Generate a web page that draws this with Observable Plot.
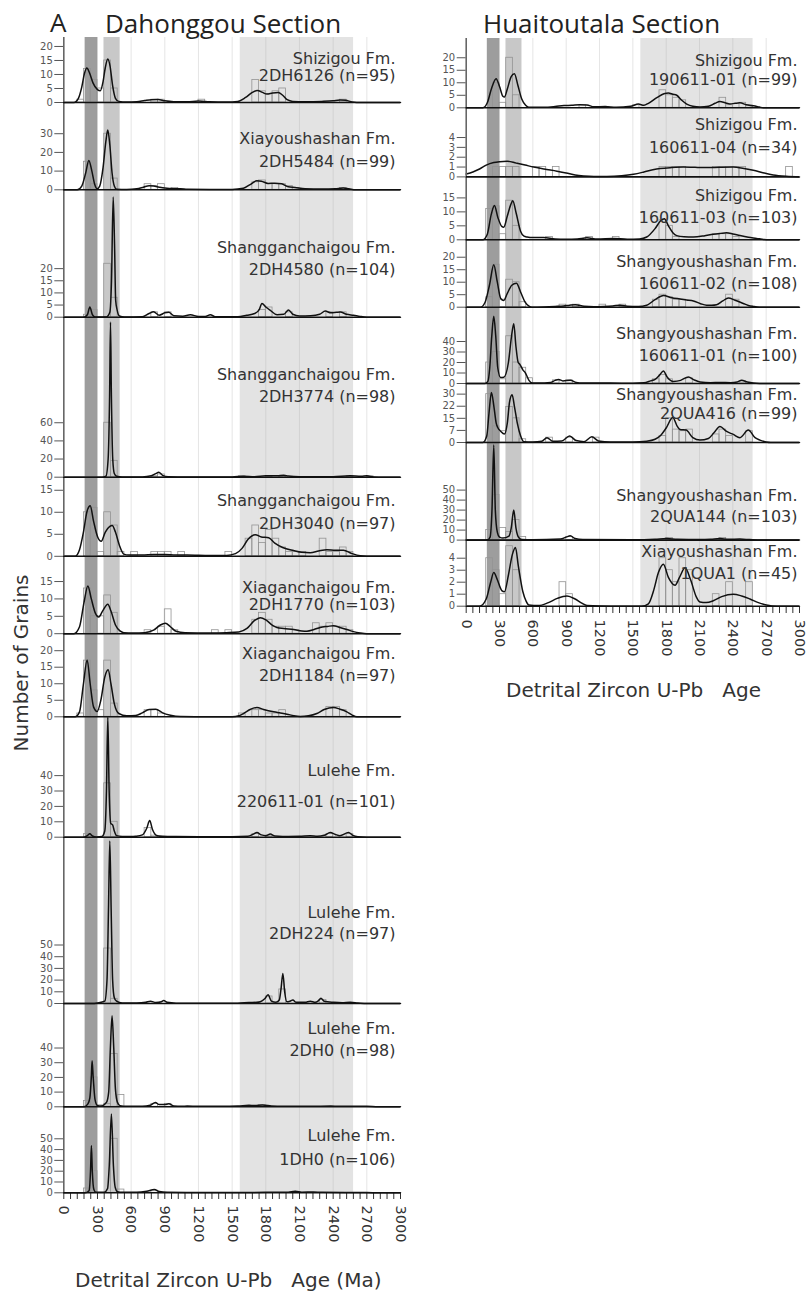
<!DOCTYPE html>
<html><head><meta charset="utf-8">
<script src="https://cdn.jsdelivr.net/npm/d3@7"></script>
<script src="https://cdn.jsdelivr.net/npm/@observablehq/plot@0.6"></script>
<style>
body{margin:0;background:#fff}
#root{position:relative;width:809px;height:1293px;overflow:hidden;background:#fff}
.t{position:absolute;white-space:pre;line-height:1;color:#222}
</style></head><body><div id="root"></div>
<script>
// ---------------- DATA ----------------
const sectionTitles = ["Dahonggou Section", "Huaitoutala Section"];
const panelLetter = "A";
const xTitles = ["Detrital Zircon U-Pb   Age (Ma)", "Detrital Zircon U-Pb   Age"];
const yTitle = "Number of Grains";

const BIN = 60; // histogram bin width (Ma)
const xMinorTicks = d3.range(0, 3001, 60);
const xLabelEvery = 300;
const gridAges = [300, 600, 900, 1200, 1500, 1800, 2100, 2400, 2700];
const bandStart = [190, 358, 1572];
const bandEnd = [303, 502, 2582];

const leftFormations = ["Shizigou Fm.", "Xiayoushashan Fm.", "Shangganchaigou Fm.", "Shangganchaigou Fm.", "Shangganchaigou Fm.", "Xiaganchaigou Fm.", "Xiaganchaigou Fm.", "Lulehe Fm.", "Lulehe Fm.", "Lulehe Fm.", "Lulehe Fm."];
const leftSamples = ["2DH6126", "2DH5484", "2DH4580", "2DH3774", "2DH3040", "2DH1770", "2DH1184", "220611-01", "2DH224", "2DH0", "1DH0"];
const leftN = [95, 99, 104, 98, 97, 103, 97, 101, 97, 98, 106];
const leftYTicks = [[0,5,10,15,20],[0,10,20,30],[0,5,10,15,20],[0,20,40,60],[0,5,10,15],[0,5,10,15],[0,5,10,15,20],[0,10,20,30,40],[0,10,20,30,40,50],[0,10,20,30,40],[0,10,20,30,40,50]];

const rightFormations = ["Shizigou Fm.", "Shizigou Fm.", "Shizigou Fm.", "Shangyoushashan Fm.", "Shangyoushashan Fm.", "Shangyoushashan Fm.", "Shangyoushashan Fm.", "Xiayoushashan Fm."];
const rightSamples = ["190611-01", "160611-04", "160611-03", "160611-02", "160611-01", "2QUA416", "2QUA144", "1QUA1"];
const rightN = [99, 34, 103, 108, 100, 99, 103, 45];
const rightYTicks = [[0,5,10,15,20],[0,1,2,3,4],[0,5,10,15],[0,5,10,15,20],[0,10,20,30,40],[0,7.5,15,22.5,30],[0,10,20,30,40,50],[0,1,2,3,4]];

// KDE curves [age, density-scaled grains]
const kde_2DH6126 = [[0,0],[90,0],[130,1.5],[160,5.5],[185,10.5],[205,12.3],[230,10.5],[260,7],[300,4.6],[325,4.2],[350,7.5],[370,12.5],[392,15.5],[412,13],[435,6],[460,1.5],[490,0.4],[560,0.2],[650,0.3],[720,0.7],[780,1.0],[840,1.1],[900,0.6],[980,0.3],[1100,0.3],[1200,0.5],[1300,0.3],[1450,0.2],[1550,0.4],[1620,1.8],[1680,3.6],[1725,4.3],[1770,3.6],[1810,3.0],[1860,3.4],[1910,3.6],[1950,2.6],[1990,1.0],[2040,0.4],[2150,0.3],[2300,0.4],[2400,0.6],[2460,0.9],[2510,0.8],[2570,0.2],[2650,0],[3000,0]];
const kde_2DH5484 = [[0,0],[120,0],[160,2],[195,9],[223,15.7],[250,10],[275,3],[297,0.6],[320,2],[350,12],[375,26],[392,32],[410,24],[430,9],[450,2],[470,0.3],[560,0.2],[650,0.5],[710,1.4],[760,2.2],[800,2.0],[850,1.4],[900,0.9],[980,0.6],[1040,0.6],[1100,0.3],[1300,0.2],[1500,0.2],[1600,0.8],[1660,2.8],[1720,4.8],[1760,4.6],[1820,3.4],[1880,3.5],[1940,3.2],[2000,1.6],[2060,1.2],[2150,0.5],[2300,0.4],[2420,0.6],[2490,0.9],[2540,0.5],[2600,0],[3000,0]];
const kde_2DH4580 = [[0,0],[180,0],[210,1],[232,4.2],[255,1],[280,0.1],[380,0.1],[410,2],[425,15],[440,49.5],[452,30],[462,7],[475,3],[495,0.5],[540,0.1],[700,0.2],[760,1.5],[800,2.2],[850,0.8],[900,1.8],[935,2],[980,0.6],[1060,0.4],[1128,1],[1200,0.3],[1260,0.3],[1306,1],[1350,0.2],[1550,0.2],[1630,0.8],[1700,1.5],[1740,3],[1766,5.6],[1800,4.2],[1840,2.8],[1900,1.0],[1960,1.2],[2003,3],[2040,1.2],[2100,0.5],[2200,0.6],[2280,1.2],[2330,2.5],[2380,1.8],[2430,2.0],[2463,2.1],[2520,1.2],[2582,0.8],[2640,0.3],[2700,0],[3000,0]];
const kde_2DH3774 = [[0,0],[340,0],[375,1],[395,20],[408,90],[416,171],[424,90],[436,20],[450,4],[470,1],[520,0.3],[700,0.3],[780,1.5],[820,4],[846,5.5],[880,2],[930,0.5],[1100,0.3],[1500,0.3],[1600,1],[1700,0.5],[1800,1.5],[1900,1.5],[1960,2],[2000,1.2],[2100,0.5],[2400,0.5],[2550,1.5],[2650,1],[2700,1.5],[2760,0.3],[2850,0],[3000,0]];
const kde_2DH3040 = [[0,0],[100,0],[140,1.5],[175,5.5],[205,10],[235,11.5],[265,8],[300,4.5],[333,3.4],[370,5.5],[410,6.8],[431,7],[460,5.5],[495,2.5],[534,0.5],[580,0.3],[700,0.3],[800,0.4],[900,0.4],[1000,0.3],[1100,0.3],[1300,0.2],[1450,0.2],[1530,0.6],[1588,1.8],[1640,3.8],[1706,4.9],[1760,4.4],[1825,4.2],[1880,3.0],[1950,2.0],[2047,1.3],[2120,0.9],[2196,0.8],[2270,1.2],[2344,1.5],[2420,1.4],[2492,1.4],[2560,0.7],[2641,0.1],[2700,0],[3000,0]];
const kde_2DH1770 = [[0,0],[90,0],[140,2],[180,9],[214,13.75],[245,10],[280,6],[312,4.8],[345,6.5],[392,8.5],[420,6.5],[460,2.5],[500,0.8],[534,0.3],[620,0.2],[720,0.3],[800,1],[860,2.5],[905,3],[950,2],[1000,0.7],[1080,0.3],[1300,0.2],[1450,0.3],[1560,0.5],[1632,1.5],[1700,3.8],[1751,4.6],[1800,4],[1860,2.4],[1899,1.8],[1960,1.5],[2048,1.2],[2120,0.8],[2166,0.7],[2230,1.2],[2285,1.8],[2350,2.1],[2404,2.3],[2460,1.8],[2522,1.2],[2580,0.6],[2641,0.2],[2700,0],[3000,0]];
const kde_2DH1184 = [[0,0],[100,0],[140,1.5],[175,10],[208,17.2],[235,10],[265,3],[297,1.6],[330,5],[365,12],[395,14.2],[420,10],[450,4],[490,1],[560,0.3],[640,0.4],[700,1.2],[760,2.2],[820,2.3],[880,1.2],[950,0.5],[1039,0.1],[1300,0],[1500,0],[1560,0.3],[1603,1],[1660,2.2],[1721,2.8],[1780,2.2],[1870,1.5],[1920,1.2],[1988,0.8],[2050,0.3],[2107,0.1],[2180,0.3],[2255,1],[2320,2.2],[2404,2.8],[2460,2.3],[2522,1.5],[2570,0.5],[2611,0],[3000,0]];
const kde_220611_01 = [[0,0],[180,0],[210,1],[232,2.2],[255,0.8],[290,0.2],[340,0.5],[365,4],[380,30],[392,78],[404,30],[418,9],[435,8],[450,4],[470,1],[520,0.5],[600,0.4],[640,0.6],[700,1.5],[740,6],[765,10.8],[790,5],[831,1],[880,0.6],[1000,0.4],[1200,0.3],[1500,0.3],[1640,0.6],[1690,2],[1721,3],[1760,1.5],[1800,1],[1840,2],[1880,0.8],[1950,0.5],[2100,0.6],[2196,1],[2260,0.6],[2320,1.2],[2374,3],[2420,1.8],[2460,1],[2537,3],[2575,1.2],[2620,0.3],[2700,0],[3000,0]];
const kde_2DH224 = [[0,0],[250,0],[300,0.5],[365,2],[385,20],[398,80],[410,139],[422,80],[435,20],[450,5],[470,2],[520,0.5],[650,0.4],[730,1],[772,2],[820,0.8],[870,1.5],[890,2.5],[920,1],[1000,0.3],[1300,0.2],[1550,0.3],[1650,0.8],[1720,1],[1751,1.5],[1790,4],[1820,7.4],[1850,2],[1890,1],[1920,3],[1935,12],[1952,25.7],[1968,10],[1988,1.5],[2015,2],[2041,3],[2070,1],[2150,1],[2196,2],[2240,1],[2270,2.5],[2291,4.5],[2320,2],[2404,1],[2480,0.6],[2552,1],[2620,0.5],[2700,0],[3000,0]];
const kde_2DH0 = [[0,0],[180,0],[215,2],[232,6],[245,20],[252,31.3],[262,20],[278,5],[297,1],[330,0.5],[380,3],[400,10],[415,40],[430,62],[445,40],[460,12],[478,3],[500,0.8],[560,0.3],[700,0.3],[770,1],[816,3],[850,1.5],[900,1.5],[935,2],[980,0.6],[1050,0.3],[1100,0.5],[1200,0.3],[1400,0.3],[1550,0.5],[1650,1],[1700,0.8],[1770,1.2],[1850,0.6],[1950,0.3],[2100,0.4],[2200,0.3],[2380,0.5],[2450,0.3],[2700,0.4],[2800,0],[3000,0]];
const kde_1DH0 = [[0,0],[190,0],[225,2],[238,20],[246,43.8],[254,20],[268,3],[285,0.5],[360,0.5],[390,4],[405,25],[424,73],[442,25],[458,5],[478,1],[520,0.5],[650,0.5],[740,1.5],[807,3],[850,1.2],[920,0.4],[1100,0.3],[1500,0.3],[1800,0.4],[2000,0.6],[2062,1.5],[2120,0.6],[2225,0.8],[2300,0.4],[2500,0.3],[2700,0.3],[2800,0],[3000,0]];

const kde_190611_01 = [[0,0],[150,0],[190,2],[230,8],[269,11.6],[300,8.5],[330,4.6],[344,4.3],[370,7.5],[405,12.5],[434,13.6],[465,9],[500,3.5],[535,1],[563,0.2],[700,0.2],[800,0.5],[880,0.9],[950,1.0],[1020,1.2],[1087,1.1],[1150,0.4],[1251,0.5],[1350,0.2],[1480,0.6],[1550,1.5],[1600,1.0],[1640,1.8],[1720,4.2],[1780,5.6],[1820,5.9],[1860,5.4],[1895,5],[1940,3],[1985,1.5],[2040,0.6],[2104,0.3],[2180,0.6],[2240,1.8],[2284,2.5],[2330,2],[2374,1.5],[2420,1.8],[2464,2],[2520,1.2],[2584,0.8],[2640,0.3],[2673,0],[3000,0]];
const kde_160611_04 = [[0,0.3],[60,0.5],[120,0.8],[180,1.2],[248,1.46],[300,1.55],[368,1.6],[450,1.4],[530,1.2],[607,1.0],[700,0.8],[817,0.58],[900,0.4],[980,0.2],[1057,0.1],[1150,0.05],[1266,0.05],[1400,0.12],[1506,0.27],[1600,0.5],[1680,0.72],[1745,0.85],[1850,0.95],[1955,1.0],[2060,0.97],[2165,0.95],[2280,0.98],[2404,1.0],[2500,0.85],[2584,0.68],[2680,0.4],[2763,0.2],[2880,0.06],[3000,0]];
const kde_160611_03 = [[0,0],[150,0],[190,2],[225,9],[254,12.3],[285,8],[320,4.8],[338,4.5],[370,8.5],[400,12.5],[419,14],[450,9.5],[490,3],[520,1.3],[548,1],[600,0.8],[697,0.8],[800,0.3],[900,0.2],[1000,0.3],[1087,0.7],[1180,0.3],[1326,0.5],[1450,0.2],[1560,0.3],[1625,1],[1700,4],[1750,6.8],[1784,7.5],[1820,5],[1860,2.5],[1895,1.5],[1960,1.1],[2045,1],[2140,1.4],[2224,2],[2290,2.3],[2344,2.5],[2400,2.1],[2464,1.5],[2540,0.9],[2614,0.5],[2680,0.1],[2720,0],[3000,0]];
const kde_160611_02 = [[0,0],[128,0],[170,2],[210,9],[248,17],[280,10],[310,3.5],[338,2.7],[370,5.5],[410,8.8],[452,9.6],[490,6],[530,2],[565,0.4],[592,0],[700,0.1],[800,0.3],[877,0.5],[930,0.8],[982,1],[1060,0.4],[1150,0.2],[1236,0.3],[1320,0.5],[1386,0.8],[1450,0.4],[1550,0.3],[1625,0.8],[1700,3],[1775,4.7],[1850,3.8],[1925,3.3],[1985,2.9],[2045,2.5],[2110,1.4],[2164,0.8],[2210,0.8],[2254,1],[2310,2.5],[2359,3.7],[2420,2.8],[2494,1.5],[2540,0.7],[2584,0.3],[2640,0],[3000,0]];
const kde_160611_01 = [[0,0],[170,0],[195,2],[212,15],[230,45],[248,64],[266,45],[284,15],[310,5.7],[338,6],[380,20],[408,45],[428,57],[448,35],[468,20],[482,18.4],[510,13],[533,10],[565,3],[593,0.5],[650,0.4],[760,1],[800,3],[832,3.8],[870,2.5],[937,3],[990,1],[1050,0.4],[1300,0.4],[1500,0.3],[1600,0.6],[1660,2.5],[1700,4],[1740,8],[1775,12],[1810,6],[1865,2],[1930,3],[2000,6.3],[2050,3.5],[2104,1.5],[2200,0.8],[2284,1],[2380,0.8],[2440,1.5],[2479,3],[2530,1.5],[2584,0.5],[2640,0.1],[2700,0],[3000,0]];
const kde_2QUA416 = [[0,0],[150,0],[185,4],[205,18],[227,31],[250,22],[270,12],[284,9.3],[310,7],[344,5.2],[370,12],[390,25],[413,29.6],[435,22],[460,12],[490,4],[518,0.5],[600,0.3],[680,0.8],[727,3],[780,0.8],[860,1],[931,4],[990,1.2],[1060,0.5],[1131,3.5],[1190,1],[1300,0.3],[1500,0.3],[1625,0.8],[1700,2],[1745,4],[1800,9],[1859,15.5],[1900,10],[1925,8],[1979,7.7],[2040,3],[2104,1.5],[2180,2.5],[2230,6],[2284,10],[2340,7],[2404,5],[2464,3],[2539,7.7],[2600,3],[2644,1.5],[2700,0.3],[2740,0],[3000,0]];
const kde_2QUA144 = [[0,0],[190,0],[215,3],[232,30],[248,95],[262,30],[280,8],[300,3],[330,2],[385,4],[405,12],[428,30],[448,12],[470,3],[500,0.5],[600,0.3],[850,1],[900,3],[937,4.3],[980,1.5],[1050,0.5],[1500,0.3],[1700,0.8],[1805,1.5],[1900,0.8],[2100,0.5],[2200,0.8],[2284,1.5],[2360,0.8],[2464,1],[2550,0.5],[2650,0],[3000,0]];
const kde_1QUA1 = [[0,0],[120,0],[180,0.6],[220,2],[248,2.8],[280,2.2],[320,1.3],[344,1.2],[380,2.6],[415,4.3],[443,4.9],[470,3.3],[510,1.2],[540,0.4],[563,0.1],[650,0.05],[740,0.3],[820,0.65],[907,0.85],[980,0.6],[1040,0.25],[1087,0.05],[1300,0],[1580,0],[1640,0.2],[1690,1.4],[1730,2.8],[1775,3.5],[1820,2.4],[1880,1.75],[1920,2.4],[1970,3.2],[2020,2.2],[2070,0.8],[2104,0.35],[2160,0.3],[2224,0.45],[2300,0.8],[2404,1.0],[2480,0.85],[2554,0.6],[2630,0.3],[2703,0.1],[2800,0],[3000,0]];

// Histograms [bin start age, count]
const hist_2DH6126 = [[120,1],[180,12],[240,8],[300,5],[360,15],[420,5],[780,1],[840,1],[1200,1],[1680,8],[1740,4],[1800,3],[1860,4],[1920,5],[2460,1]];
const hist_2DH5484 = [[180,15],[240,3],[360,30],[420,6],[720,3],[780,2],[840,3],[960,1],[1680,4],[1740,5],[1800,3],[1860,3],[1920,3],[1980,2],[2040,1],[2460,1]];
const hist_2DH4580 = [[180,1],[240,3],[360,22],[420,8],[780,2],[900,2],[1740,3],[1800,4],[1980,2],[2340,2],[2460,2]];
const hist_2DH3774 = [[360,60],[420,18],[780,1],[840,3],[1560,1],[1800,1],[1920,1],[2520,1],[2700,1]];
const hist_2DH3040 = [[180,10],[240,11],[300,1],[360,10],[420,7],[480,1],[600,1],[780,1],[840,1],[900,1],[1020,1],[1440,1],[1620,4],[1680,7],[1740,3],[1800,6],[1860,4],[1920,2],[1980,1],[2040,1],[2100,1],[2280,4],[2340,1],[2400,1],[2460,2],[2520,1]];
const hist_2DH1770 = [[180,13],[240,5],[300,5],[360,11],[420,6],[720,1],[840,2],[900,7],[960,1],[1320,1],[1440,1],[1680,4],[1740,6],[1800,4],[1860,2],[1920,2],[1980,2],[2040,1],[2220,3],[2280,2],[2340,3],[2400,2],[2460,2],[2520,1]];
const hist_2DH1184 = [[120,1],[180,17],[240,8],[300,2],[360,17],[420,4],[720,2],[780,2],[840,1],[1560,1],[1680,2],[1740,2],[1800,1],[1860,1],[1920,2],[2340,3],[2400,3],[2460,2]];
const hist_220611_01 = [[180,2],[360,35],[420,10],[720,6],[780,1],[1680,2],[1800,1],[2340,2],[2520,2]];
const hist_2DH224 = [[360,47],[420,4],[1800,6],[1920,12],[2280,3]];
const hist_2DH0 = [[180,4],[240,20],[300,1],[360,2],[420,36],[480,8],[780,2],[900,2],[1740,1]];
const hist_1DH0 = [[180,4],[240,20],[420,50],[480,3],[780,2],[2040,1]];

const hist_190611_01 = [[240,10],[300,2],[360,20],[420,5],[1020,1],[1500,1],[1740,7],[1800,5],[1860,4],[1920,3],[2280,4],[2340,1],[2460,2],[2520,1]];
const hist_160611_04 = [[240,1],[300,1],[360,1],[420,1],[600,1],[660,1],[780,1],[1740,1],[1800,1],[1860,1],[1920,1],[2220,1],[2280,1],[2340,1],[2400,1],[2460,1],[2880,1]];
const hist_160611_03 = [[180,11],[240,12],[300,2],[360,14],[420,5],[720,1],[1080,1],[1320,1],[1740,7],[1800,5],[1860,1],[2220,2],[2280,2],[2340,2],[2400,1]];
const hist_160611_02 = [[180,4],[240,17],[300,3],[360,11],[420,10],[480,2],[840,1],[960,1],[1200,1],[1380,1],[1680,3],[1740,5],[1800,4],[1860,3],[1920,3],[2340,5],[2400,3]];
const hist_160611_01 = [[180,20],[240,30],[300,4],[360,45],[420,20],[480,15],[540,5],[780,3],[900,3],[1680,4],[1740,8],[1800,4],[1980,5],[2460,2]];
const hist_2QUA416 = [[180,30],[240,10],[300,7],[360,22],[420,15],[480,2],[720,3],[900,3],[1140,3],[1740,4],[1800,15],[1860,8],[1920,7],[1980,8],[2220,5],[2280,8],[2340,4],[2520,7]];
const hist_2QUA144 = [[180,10],[240,45],[300,12],[360,8],[420,20],[480,3],[900,3],[1800,2],[2280,2]];
const hist_1QUA1 = [[180,4],[240,3],[300,1],[360,5],[420,3],[840,2],[900,1],[1740,4],[1800,3],[1860,2],[1920,4],[1980,3],[2220,1],[2340,2],[2520,2]];

const leftKde = [kde_2DH6126, kde_2DH5484, kde_2DH4580, kde_2DH3774, kde_2DH3040, kde_2DH1770, kde_2DH1184, kde_220611_01, kde_2DH224, kde_2DH0, kde_1DH0];
const leftHist = [hist_2DH6126, hist_2DH5484, hist_2DH4580, hist_2DH3774, hist_2DH3040, hist_2DH1770, hist_2DH1184, hist_220611_01, hist_2DH224, hist_2DH0, hist_1DH0];
const rightKde = [kde_190611_01, kde_160611_04, kde_160611_03, kde_160611_02, kde_160611_01, kde_2QUA416, kde_2QUA144, kde_1QUA1];
const rightHist = [hist_190611_01, hist_160611_04, hist_160611_03, hist_160611_02, hist_160611_01, hist_2QUA416, hist_2QUA144, hist_1QUA1];

// ---------------- LAYOUT (pixels) ----------------
const leftTop  = [37, 102, 189.3, 317, 476.7, 555.5, 632.7, 716, 836.7, 1002.7, 1106];
const leftBase = [102, 189.3, 317, 476.7, 555.5, 632.7, 716, 836.7, 1002.7, 1106, 1192.3];
const leftYMax = [23.2, 46.7, 52.6, 176, 17.9, 22.2, 25.2, 78.4, 141.9, 70.3, 79.9];
const leftLab1 = [58, 138.3, 247.3, 374, 500, 586.5, 653.3, 770.7, 911.7, 1028.3, 1135];
const leftLab2 = [75.5, 161.7, 269.3, 396.7, 523.3, 604, 675, 801.7, 933.3, 1050, 1159.3];

const rightTop  = [38, 107.3, 176.7, 239, 306.7, 382.7, 441.7, 539.3];
const rightBase = [107.3, 176.7, 239, 306.7, 382.7, 441.7, 539.3, 606];
const rightYMax = [27.7, 7.05, 22.3, 27.1, 72.4, 36.6, 97.6, 5.56];
const rightLab1 = [60, 125, 195, 261.7, 333.3, 394, 495, 551.7];
const rightLab2 = [79.3, 147.3, 217.3, 283.3, 355, 412.7, 516, 573.3];

const cols = [
  {x0: 0, width: 405, ml: 63.3, mr: 5, labDx: -5},
  {x0: 404, width: 405, ml: 61.7, mr: 10, labDx: -2}
];
const bandFill = ["#9d9d9d", "#c8c8c8", "#e3e3e3"];

// ---------------- DRAW ----------------
const root = document.getElementById("root");
function place(el, left, top) {
  el.style.position = "absolute";
  el.style.left = left + "px";
  el.style.top = top + "px";
  root.appendChild(el);
}
const FONT = "DejaVu Sans, Liberation Sans, sans-serif";

function makePanel(col, top, base, ymax, ticks, kde, hist, line1, line2, l1, l2) {
  const mb = 3;
  return Plot.plot({
    width: col.width, height: base - top + mb,
    marginLeft: col.ml, marginRight: col.mr, marginTop: 0, marginBottom: mb,
    style: {background: "transparent", fontFamily: FONT, fontSize: "10px", color: "#555", overflow: "visible"},
    x: {domain: [0, 3000], axis: null},
    y: {domain: [0, ymax], ticks: ticks, tickSize: 9, tickPadding: 2, tickFormat: d => Math.floor(d), label: null},
    marks: [
      ...bandStart.map((s, j) => Plot.rect([j], {x1: () => s, x2: () => bandEnd[j], fill: bandFill[j]})),
      Plot.ruleX(gridAges, {x: d => d, stroke: "#b5b5b5", strokeOpacity: 0.35, strokeWidth: 1}),
      Plot.rect(hist, {x1: d => d[0], x2: d => d[0] + BIN, y1: () => 0, y2: d => d[1], fill: "none", stroke: "#939393", strokeWidth: 0.8}),
      Plot.line(kde, {x: d => d[0], y: d => d[1], curve: "monotone-x", stroke: "#111", strokeWidth: 1.5}),
      Plot.ruleX([0], {x: d => d, stroke: "#666", strokeWidth: 1.6}),
      Plot.ruleY([0], {y: d => d, stroke: "#111", strokeWidth: 1.6}),
      Plot.text([line1], {text: d => d, frameAnchor: "top-right", dx: col.labDx, dy: l1 - top, textAnchor: "end", lineAnchor: "middle", fontSize: 16, fontFamily: FONT, fill: "#333"}),
      Plot.text([line2], {text: d => d, frameAnchor: "top-right", dx: col.labDx, dy: l2 - top, textAnchor: "end", lineAnchor: "middle", fontSize: 16, fontFamily: FONT, fill: "#333"})
    ]
  });
}

function makeXAxis(col) {
  return Plot.plot({
    width: col.width, height: 62, marginLeft: col.ml, marginRight: col.mr, marginTop: 0, marginBottom: 61,
    style: {background: "transparent", fontFamily: FONT, fontSize: "14.5px", color: "#333", overflow: "visible"},
    x: {domain: [0, 3000], ticks: xMinorTicks, tickFormat: d => (d % xLabelEvery === 0 ? String(d) : ""), tickRotate: 90, tickSize: 6, tickPadding: 6, label: null},
    marks: [Plot.ruleX([0], {x: d => d, stroke: "none"})]
  });
}

const items = [];
leftSamples.forEach((s, i) => items.push({col: cols[0], top: leftTop[i], base: leftBase[i], ymax: leftYMax[i], ticks: leftYTicks[i], kde: leftKde[i], hist: leftHist[i], line1: leftFormations[i], line2: `${s} (n=${leftN[i]})`, l1: leftLab1[i], l2: leftLab2[i]}));
rightSamples.forEach((s, i) => items.push({col: cols[1], top: rightTop[i], base: rightBase[i], ymax: rightYMax[i], ticks: rightYTicks[i], kde: rightKde[i], hist: rightHist[i], line1: rightFormations[i], line2: `${s} (n=${rightN[i]})`, l1: rightLab1[i], l2: rightLab2[i]}));

place(makeXAxis(cols[0]), cols[0].x0, leftBase[leftBase.length - 1]);
place(makeXAxis(cols[1]), cols[1].x0, rightBase[rightBase.length - 1]);

// bottom panels first so upper panels' baselines stay on top
items.sort((a, b) => b.top - a.top).forEach(p => {
  place(makePanel(p.col, p.top, p.base, p.ymax, p.ticks, p.kde, p.hist, p.line1, p.line2, p.l1, p.l2), p.col.x0, p.top);
});

function addText(txt, left, top, size, family, extra) {
  const d = document.createElement("div");
  d.className = "t";
  d.textContent = txt;
  d.style.left = left + "px";
  d.style.top = top + "px";
  d.style.fontSize = size + "px";
  d.style.fontFamily = family;
  if (extra) Object.assign(d.style, extra);
  root.appendChild(d);
  return d;
}
addText(panelLetter, 50, 9, 26, "Open Sans, sans-serif");
addText(sectionTitles[0], 105, 9.5, 26, "Open Sans, sans-serif");
addText(sectionTitles[1], 483, 9.5, 26, "Open Sans, sans-serif");
addText(xTitles[0], 75, 1270, 20, FONT, {color: "#333"});
addText(xTitles[1], 506, 680, 20, FONT, {color: "#333"});
addText(yTitle, 20.5 - 150, 663 - 10, 20, FONT, {color: "#333", width: "300px", textAlign: "center", transform: "rotate(-90deg)", transformOrigin: "150px 10px"});
</script></body></html>
